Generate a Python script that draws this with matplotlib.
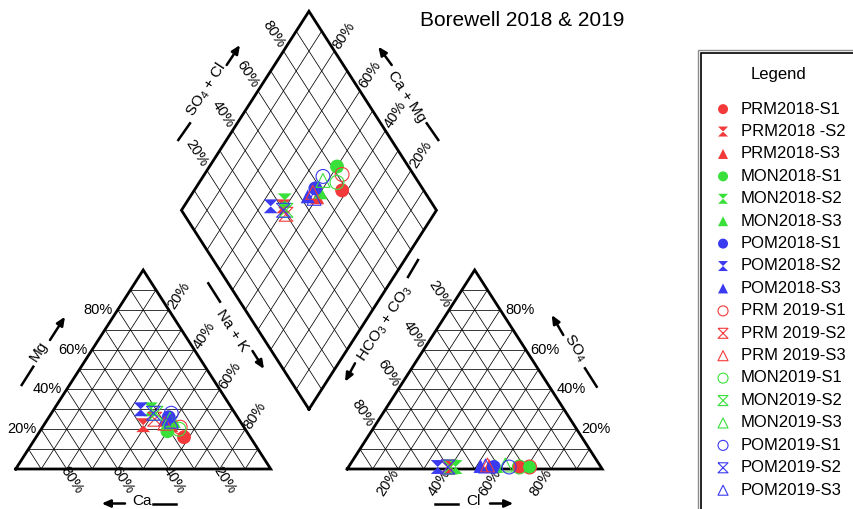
import numpy as np
import matplotlib
matplotlib.use("Agg")
import matplotlib.pyplot as plt
from matplotlib.patches import Rectangle

plt.rcParams['font.family'] = ['Liberation Sans', 'DejaVu Sans']
plt.rcParams['mathtext.fontset'] = 'custom'
plt.rcParams['mathtext.rm'] = 'Liberation Sans'
plt.rcParams['mathtext.it'] = 'Liberation Sans:italic'

# samples (percent of meq)
labels = ["PRM2018-S1", "PRM2018 -S2", "PRM2018-S3", "MON2018-S1", "MON2018-S2", "MON2018-S3",
          "POM2018-S1", "POM2018-S2", "POM2018-S3", "PRM 2019-S1", "PRM 2019-S2", "PRM 2019-S3",
          "MON2019-S1", "MON2019-S2", "MON2019-S3", "POM2019-S1", "POM2019-S2", "POM2019-S3"]
ca = [26, 39, 28, 31, 32, 26, 27, 36, 29, 25, 33, 30, 26, 31, 27, 25, 32, 27]
mg = [16, 22, 22, 19, 30, 24, 26, 30, 25, 21, 25, 23, 20, 28, 25, 28, 28, 24]
nak = [58, 39, 50, 50, 38, 50, 47, 34, 46, 54, 42, 47, 54, 41, 48, 47, 40, 49]
hco3 = [32, 59, 43.5, 28, 57, 41, 42, 64, 47, 28, 60, 44, 32, 59, 37, 36, 60, 45]
so4 = [1, 1, 1.5, 1, 1, 1.5, 1, 1, 1.5, 1, 1, 2, 1, 1, 2, 1, 1, 1.5]
cl = [67, 40, 55, 71, 42, 57.5, 57, 35, 51.5, 71, 39, 54, 67, 40, 61, 63, 39, 53.5]

colours = ['#f23a3a', '#3ae03a', '#3a3af0']
hourglass = [(-1, 1), (1, 1), (-1, -1), (1, -1), (-1, 1)]
shapes = ['o', hourglass, '^']

S = np.sqrt(3) / 2
GAP = 0.3
OFF = 1 + GAP
DX, DY = 1 + GAP / 2, GAP / 2 * np.tan(np.pi / 3)


def cat_xy(n, m):
    return n + m / 2, m * S


def an_xy(c, s):
    return OFF + c + s / 2, s * S


def dia_xy(c, s):
    return DX + 0.5 * (s - c), DY + S * (s + c)


def px(x, y):
    # reference pixel position -> data coordinates (layout only)
    return (x - 15.7) / 255, (469 - y) / 229.8


fig = plt.figure(figsize=(8.54, 5.09), dpi=100)
ax = fig.add_axes([0, 0, 1, 1])
ax.set_xlim(-15.7 / 255, (854 - 15.7) / 255)
ax.set_ylim((469 - 509) / 229.8, 469 / 229.8)
ax.axis('off')

gl = dict(color='black', lw=0.55, zorder=1)
for f in np.arange(1, 10) / 10:
    # cation triangle
    ax.plot([f / 2, 1 - f / 2], [f * S, f * S], **gl)
    ax.plot([f, f + (1 - f) / 2], [0, (1 - f) * S], **gl)
    ax.plot([1 - f, (1 - f) / 2], [0, (1 - f) * S], **gl)
    # anion triangle
    ax.plot([OFF + f / 2, OFF + 1 - f / 2], [f * S, f * S], **gl)
    ax.plot([OFF + f, OFF + f / 2], [0, f * S], **gl)
    ax.plot([OFF + 1 - f, OFF + 1 - f + f / 2], [0, f * S], **gl)
    # diamond
    a, b = dia_xy(0, f), dia_xy(1, f)
    ax.plot([a[0], b[0]], [a[1], b[1]], **gl)
    a, b = dia_xy(f, 0), dia_xy(f, 1)
    ax.plot([a[0], b[0]], [a[1], b[1]], **gl)

ol = dict(color='black', lw=2, zorder=2, solid_joinstyle='miter')
ax.plot([0, 1, 0.5, 0], [0, 0, S, 0], **ol)
ax.plot([OFF, OFF + 1, OFF + 0.5, OFF], [0, 0, S, 0], **ol)
corners = [dia_xy(0, 0), dia_xy(1, 0), dia_xy(1, 1), dia_xy(0, 1), dia_xy(0, 0)]
ax.plot([p[0] for p in corners], [p[1] for p in corners], **ol)

# tick labels
tk = dict(fontsize=10.5, zorder=3)
ticks = [0.2, 0.4, 0.6, 0.8]
ux, uy = 1 / 255, 1 / 229.8
for f in ticks:
    t = f'{int(round(f * 100))}%'
    x, y = cat_xy(0, f)
    ax.text(x - 5 * ux, y, t, ha='right', va='center', **tk)
    x, y = cat_xy(1 - f, 0)
    ax.text(x + 5 * ux, y - 11 * uy, t, ha='center', va='center', rotation=-57, **tk)
    x, y = cat_xy(f, 1 - f)
    ax.text(x + 10 * ux, y + 14 * uy, t, ha='center', va='center', rotation=57, **tk)
    x, y = an_xy(f, 0)
    ax.text(x - 10 * ux, y - 14 * uy, t, ha='center', va='center', rotation=57, **tk)
    x, y = an_xy(1 - f, f)
    ax.text(x + 5 * ux, y, t, ha='left', va='center', **tk)
    x, y = an_xy(0, 1 - f)
    ax.text(x - 10 * ux, y + 16 * uy, t, ha='center', va='center', rotation=-57, **tk)
    x, y = dia_xy(1, f)
    ax.text(x - 10 * ux, y + 17 * uy, t, ha='center', va='center', rotation=-57, **tk)
    x, y = dia_xy(f, 1)
    ax.text(x + 10 * ux, y + 16 * uy, t, ha='center', va='center', rotation=57, **tk)

# axis titles with arrows
names = ["Mg", "Ca", "Na + K", "HCO$_3$ + CO$_3$", "SO$_4$", "Cl", "SO$_4$ + Cl", "Ca + Mg"]
name_pos = [(38.3, 351.7, 57), (141.7, 501, 0), (232.5, 330.5, -57), (385, 323.3, 57),
            (575, 348.3, -57), (473.3, 501, 0), (206.7, 90, 57), (406.7, 96.7, -57)]
dashes = [((21.7, 385), (33.3, 366.7)), ((153, 503.5), (176, 503.5)),
          ((208.3, 283.3), (220, 301.7)), ((408, 277), (418, 260)),
          ((585, 368.3), (596.7, 386.7)), ((435, 503.5), (458.3, 503.5)),
          ((178.3, 140), (190, 123.3)), ((426.7, 123.3), (438.3, 140))]
arrows = [((50, 340), (65, 316.7)), ((125, 503.5), (101.7, 503.5)),
          ((252.5, 351), (264, 369)), ((355, 363.3), (345, 381.7)),
          ((563.3, 335), (551.7, 315)), ((490, 503.5), (513.3, 503.5)),
          ((226.7, 65), (240, 45)), ((391.7, 65), (378.3, 46.7))]
for nm, (x, y, r), d, a in zip(names, name_pos, dashes, arrows):
    ax.text(*px(x, y), nm, ha='center', va='center', rotation=r, fontsize=11, zorder=3)
    p0, p1 = px(*d[0]), px(*d[1])
    ax.plot([p0[0], p1[0]], [p0[1], p1[1]], color='black', lw=1.8)
    ax.annotate('', xy=px(*a[1]), xytext=px(*a[0]),
                arrowprops=dict(arrowstyle='-|>,head_length=0.5,head_width=0.22',
                                color='black', lw=1.8, shrinkA=0, shrinkB=0))

# samples
handles = []
for i, lab in enumerate(labels):
    col = colours[(i % 9) // 3]
    mk = shapes[i % 3]
    filled = i < 9
    n, m = nak[i] / 100, mg[i] / 100
    c, s = cl[i] / 100, so4[i] / 100
    xs = [cat_xy(n, m)[0], an_xy(c, s)[0], dia_xy(1 - n, c + s)[0]]
    ys = [cat_xy(n, m)[1], an_xy(c, s)[1], dia_xy(1 - n, c + s)[1]]
    if filled:
        h = ax.scatter(xs, ys, s=100, marker=mk, color=col, edgecolors='none', label=lab, zorder=4)
    else:
        h = ax.scatter(xs, ys, s=100, marker=mk, facecolors='none', edgecolors=col,
                       linewidths=0.8, label=lab, zorder=4)
    handles.append(h)

fig.text(522.5 / 854, 1 - 20 / 509, "Borewell 2018 & 2019", ha='center', va='center', fontsize=15)

fig.text(779 / 854, 1 - 75 / 509, "Legend", ha='center', va='center', fontsize=12)
leg = fig.legend(handles=handles, loc='upper left', bbox_to_anchor=(714.7 / 854, 1 - 101.5 / 509),
                 frameon=False, fontsize=12,
                 handlelength=1.0, handletextpad=0.58, labelspacing=0.445, markerscale=0.72,
                 borderaxespad=0, borderpad=0)
fig.add_artist(Rectangle((698 / 854, -0.1), 0.3, 1.1 - 50 / 509, transform=fig.transFigure,
                         fill=False, edgecolor='0.55', lw=1))
fig.add_artist(Rectangle((701 / 854, -0.1), 0.3, 1.1 - 53 / 509, transform=fig.transFigure,
                         fill=False, edgecolor='black', lw=1.2))

fig.savefig("out.png", dpi=100)
